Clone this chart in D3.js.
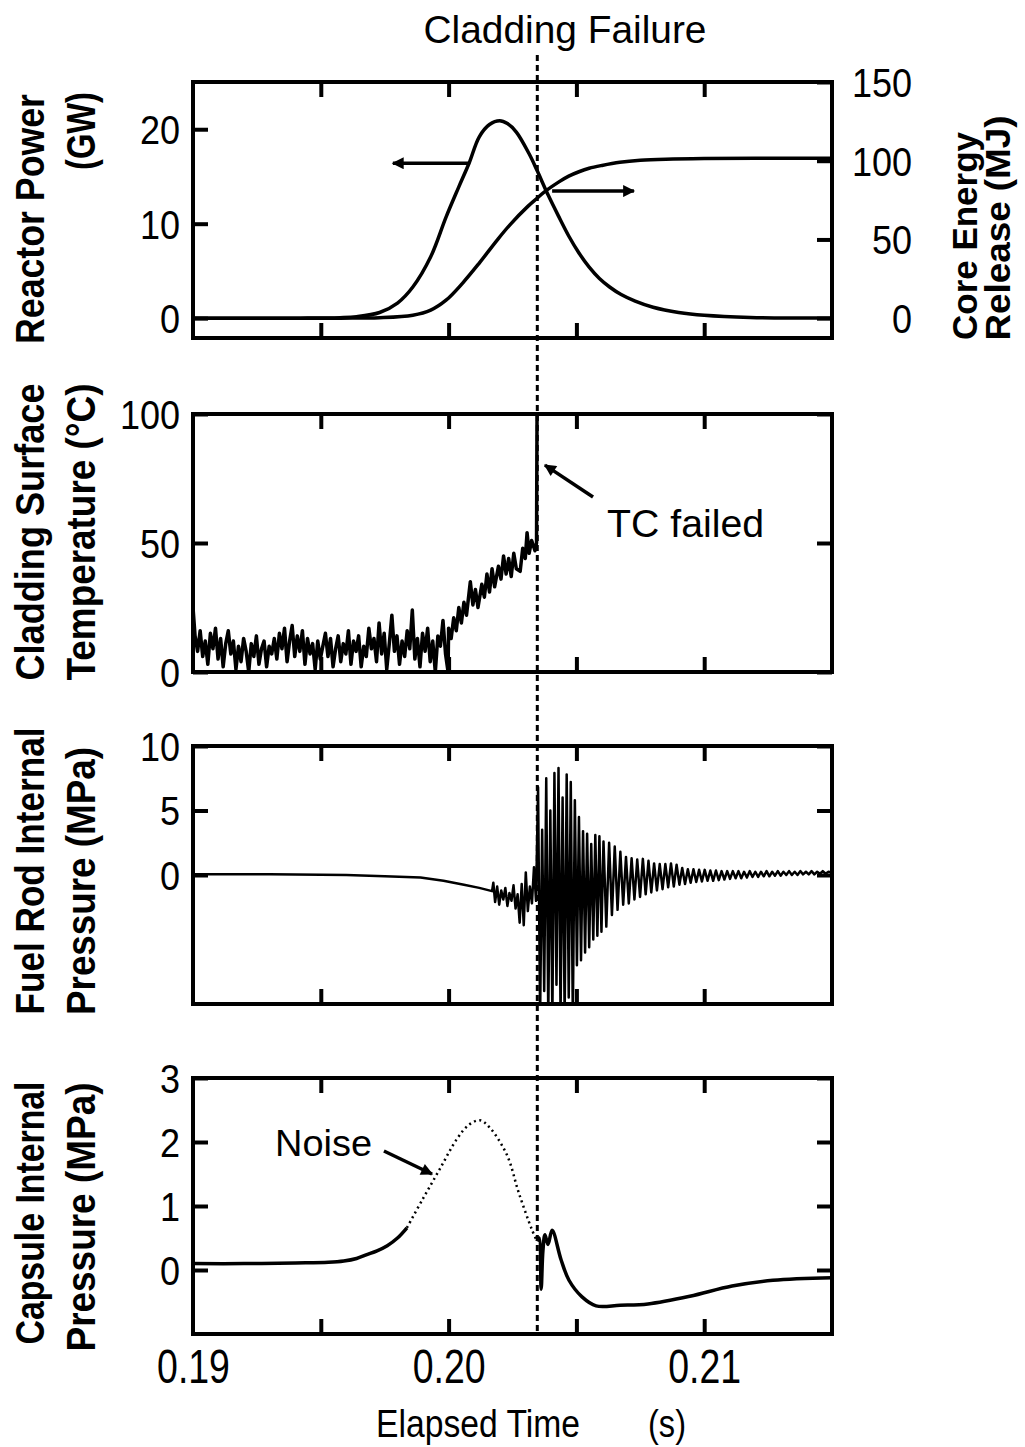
<!DOCTYPE html>
<html>
<head>
<meta charset="utf-8">
<script src="https://cdn.jsdelivr.net/npm/d3@7"></script>
<style>
  html, body { margin: 0; padding: 0; background: #fff; }
  svg { display: block; }
  text { font-family: "Liberation Sans", Arial, sans-serif; fill: #000; }
</style>
</head>
<body>
<script>
// time is kept in ms, labels are shown in seconds
const failureTime = 203.47;
const xTickTimes = [195, 200, 205, 210];
const xLabelTimes = [190, 200, 210];
const xTickLabels = ["0.19", "0.20", "0.21"];

const powerTicks = [0, 10, 20];
const energyTicks = [0, 50, 100, 150];
const tempTicks = [0, 50, 100];
const rodTicks = [0, 5, 10];
const capsuleTicks = [0, 1, 2, 3];

// reactor power (GW)
const reactorPower = [
  [190.0, 0], [194.2, 0], [195.75, 0.05], [196.4, 0.15], [197.3, 0.6], [198.0, 1.6], [198.6, 3.3],
  [199.3, 6.5], [199.9, 10.7], [200.4, 13.9], [200.8, 16.4], [201.2, 19.2], [201.6, 20.5],
  [202.0, 20.9], [202.3, 20.6], [202.65, 19.7], [203.15, 17.4], [203.45, 15.7], [203.9, 13.0],
  [204.3, 10.8], [204.7, 8.7], [205.1, 6.9], [205.5, 5.4], [205.9, 4.2], [206.3, 3.3],
  [206.75, 2.5], [207.3, 1.8], [208.0, 1.15], [209.0, 0.6], [210.0, 0.3], [211.8, 0.08], [215.0, 0.02]
];

// core energy release (MJ)
const coreEnergy = [
  [190.0, 0], [195.75, 0], [197.3, 0.3], [198.6, 1.9], [199.3, 5.1], [199.9, 11.4], [200.55, 22.3],
  [201.2, 35.0], [201.9, 49.6], [202.4, 59.3], [203.1, 71.0], [203.45, 76.0], [203.8, 80.8],
  [204.3, 86.4], [204.7, 90.2], [205.1, 93.0], [205.5, 95.2], [206.0, 97.0], [206.7, 99.0],
  [207.5, 100.3], [208.5, 101.0], [210.0, 101.4], [212.0, 101.5], [215.0, 101.5]
];

// cladding surface temperature (C)
const cladTemp = [
  [190.00, 25], [190.08, 14], [190.18, 8], [190.28, 16], [190.38, 6], [190.48, 12], [190.58, 3],
  [190.68, 15], [190.78, 9], [190.88, 17], [190.98, 5], [191.08, 13], [191.18, 2], [191.28, 11],
  [191.38, 16], [191.48, 7], [191.58, 12], [191.68, 1], [191.78, 10], [191.88, 4], [191.98, 13],
  [192.08, 8], [192.18, 0], [192.28, 11], [192.38, 6], [192.48, 14], [192.58, 3], [192.68, 9],
  [192.78, 12], [192.88, 2], [192.98, 10], [193.08, 7], [193.18, 13], [193.28, 5], [193.38, 15],
  [193.48, 9], [193.58, 17], [193.68, 4], [193.78, 12], [193.88, 18], [193.98, 6], [194.08, 14],
  [194.18, 8], [194.28, 16], [194.38, 3], [194.48, 13], [194.58, 7], [194.68, 11], [194.78, 1],
  [194.88, 12], [194.98, 5], [195.08, 10], [195.18, 15], [195.28, 6], [195.38, 13], [195.48, 2],
  [195.58, 9], [195.68, 14], [195.78, 4], [195.88, 11], [195.98, 7], [196.08, 16], [196.18, 3],
  [196.28, 12], [196.38, 8], [196.48, 14], [196.58, 2], [196.68, 10], [196.78, 6], [196.88, 17],
  [196.98, 9], [197.08, 13], [197.18, 4], [197.28, 19], [197.38, 7], [197.48, 15], [197.58, 1],
  [197.68, 11], [197.78, 22], [197.88, 8], [197.98, 14], [198.08, 3], [198.18, 12], [198.28, 6],
  [198.38, 16], [198.48, 9], [198.58, 24], [198.68, 5], [198.78, 13], [198.88, 2], [198.98, 15],
  [199.08, 8], [199.18, 17], [199.28, 4], [199.38, 12], [199.48, 0], [199.58, 14], [199.68, 10],
  [199.78, 20], [199.88, 7], [199.98, 0],
  [200.00, 17], [200.10, 13], [200.20, 21], [200.30, 16], [200.40, 25], [200.50, 19], [200.60, 27],
  [200.70, 22], [200.85, 35], [200.95, 26], [201.05, 32], [201.15, 25], [201.30, 34], [201.40, 29],
  [201.50, 38], [201.60, 31], [201.70, 40], [201.80, 33], [201.95, 41], [202.05, 36], [202.15, 45],
  [202.25, 38], [202.35, 44], [202.45, 37], [202.55, 46], [202.65, 40], [202.80, 39], [202.90, 48],
  [203.00, 44], [203.07, 54], [203.15, 46], [203.25, 51], [203.38, 47], [203.44, 50], [203.46, 100]
];

// fuel rod internal pressure (MPa)
const rodPressure = [
  [190.0, 0.05], [193.0, 0.05], [196.0, 0.0], [197.5, -0.1], [198.9, -0.2], [199.8, -0.45],
  [200.6, -0.75], [201.2, -1.0], [201.7, -1.25],
  [201.75, -0.6], [201.82, -2.1], [201.90, -0.9], [201.98, -2.3], [202.06, -1.2], [202.14, -1.9],
  [202.22, -1.0], [202.30, -2.4], [202.38, -1.4], [202.46, -2.0], [202.54, -0.8], [202.62, -2.6],
  [202.70, -1.5], [202.78, -3.7], [202.86, -0.7], [202.94, -3.9], [203.02, 0.2], [203.10, -2.8],
  [203.18, -0.9], [203.26, -2.2], [203.34, 0.6], [203.42, -2.0],
  [203.50, 6.8], [203.58, -11], [203.66, 3.5], [203.74, -9], [203.82, 7.5], [203.90, -11],
  [203.98, 5.0], [204.06, -11], [204.14, 7.9], [204.22, -8.5], [204.30, 8.3], [204.38, -11],
  [204.46, 6.0], [204.54, -11], [204.62, 7.8], [204.70, -9.5], [204.78, 7.2], [204.86, -11],
  [204.94, 5.8], [205.02, -7.0], [205.10, 4.5], [205.18, -6.6], [205.26, 3.4], [205.34, -6.0],
  [205.42, 3.2], [205.50, -5.6], [205.58, 2.4], [205.66, -5.0], [205.74, 3.1], [205.82, -4.7],
  [205.90, 3.0], [205.98, -4.4], [206.06, 2.6],
  [206.17, -4.0], [206.28, 2.5], [206.39, -3.1], [206.50, 2.2], [206.61, -2.7], [206.72, 1.8],
  [206.83, -2.3], [206.94, 1.4], [207.05, -2.2], [207.16, 1.3], [207.27, -1.9], [207.38, 1.2],
  [207.49, -1.7], [207.60, 1.25], [207.71, -1.5], [207.82, 1.1], [207.93, -1.35], [208.04, 0.9],
  [208.15, -1.2], [208.26, 0.85], [208.37, -1.1], [208.48, 0.85], [208.59, -0.95], [208.70, 0.9],
  [208.81, -0.9], [208.92, 0.8], [209.03, -0.75], [209.14, 0.55], [209.25, -0.7], [209.36, 0.45],
  [209.47, -0.6], [209.58, 0.45], [209.69, -0.55], [209.80, 0.4], [209.91, -0.5], [210.02, 0.4],
  [210.13, -0.45], [210.24, 0.35], [210.35, -0.45], [210.46, 0.35], [210.57, -0.4], [210.68, 0.3],
  [210.79, -0.35], [210.90, 0.3], [211.01, -0.3], [211.12, 0.3], [211.23, -0.25], [211.34, 0.3],
  [211.45, -0.25], [211.56, 0.25], [211.67, -0.2], [211.78, 0.3], [211.89, -0.15], [212.00, 0.25],
  [212.11, -0.15], [212.22, 0.25], [212.33, -0.1], [212.44, 0.3], [212.55, -0.1], [212.66, 0.25],
  [212.77, -0.05], [212.88, 0.3], [212.99, -0.05], [213.10, 0.25], [213.21, 0.0], [213.32, 0.3],
  [213.43, 0.0], [213.54, 0.25], [213.65, 0.0], [213.76, 0.3], [213.87, 0.05], [213.98, 0.25],
  [214.09, 0.05], [214.20, 0.3], [214.31, 0.05], [214.42, 0.25], [214.53, 0.1], [214.64, 0.3],
  [214.75, 0.1], [214.86, 0.25], [215.0, 0.2]
];

// capsule internal pressure (MPa)
const capsulePressure = [
  [190.0, 0.1], [192.0, 0.1], [194.0, 0.11], [195.3, 0.12], [195.9, 0.14], [196.4, 0.18],
  [196.8, 0.24], [197.2, 0.3], [197.6, 0.38], [198.0, 0.5], [198.37, 0.66], [198.99, 1.11],
  [199.66, 1.58], [200.33, 2.05], [200.80, 2.27], [201.23, 2.34], [201.62, 2.22], [202.28, 1.8],
  [202.75, 1.2], [203.26, 0.63], [203.46, 0.45], [203.54, 0.5], [203.62, -0.3], [203.69, 0.3],
  [203.77, 0.55], [203.89, 0.4], [204.05, 0.62], [204.40, 0.16], [204.71, -0.16], [205.22, -0.42],
  [205.77, -0.56], [206.71, -0.55], [207.80, -0.53], [209.44, -0.41], [211.09, -0.25],
  [212.69, -0.16], [215.0, -0.12]
];
const noiseSpan = [198.37, 203.46];

// ---- layout ----
const W = 1025, H = 1447;
const boxLeft = 193, boxRight = 832;
const tickLen = 15;

const svg = d3.select("body").append("svg")
    .attr("width", W)
    .attr("height", H)
    .attr("viewBox", `0 0 ${W} ${H}`);

svg.append("rect").attr("width", W).attr("height", H).attr("fill", "#fff");

const defs = svg.append("defs");
defs.append("marker")
    .attr("id", "head")
    .attr("viewBox", "0 0 10 10")
    .attr("refX", 9).attr("refY", 5)
    .attr("markerWidth", 16).attr("markerHeight", 12)
    .attr("markerUnits", "userSpaceOnUse")
    .attr("orient", "auto")
    .append("path").attr("d", "M0,0 L10,5 L0,10 z").attr("fill", "#000");

let x = d3.scaleLinear().domain([190, 215]).range([boxLeft, boxRight]);

function condense(sel, f) {
    sel.each(function () {
        let w = this.getComputedTextLength();
        d3.select(this).attr("textLength", w * f).attr("lengthAdjust", "spacingAndGlyphs");
    });
}

function styleAxis(g) {
    g.select(".domain").remove();
    g.selectAll(".tick line").attr("stroke", "#000").attr("stroke-width", 4);
    g.attr("font-family", null).attr("font-size", null);
}

function makePanel(id, top, bottom) {
    let g = svg.append("g").attr("class", "panel " + id);
    defs.append("clipPath").attr("id", "clip-" + id)
        .append("rect")
        .attr("x", boxLeft).attr("y", top)
        .attr("width", boxRight - boxLeft).attr("height", bottom - top);

    g.append("g").attr("transform", `translate(0,${top})`)
        .call(d3.axisTop(x).tickValues(xTickTimes).tickSize(-tickLen).tickFormat(""))
        .call(styleAxis);
    g.append("g").attr("transform", `translate(0,${bottom})`)
        .call(d3.axisBottom(x).tickValues(xTickTimes).tickSize(-tickLen).tickFormat(""))
        .call(styleAxis);

    let plot = g.append("g").attr("clip-path", `url(#clip-${id})`);
    return {g: g, plot: plot, top: top, bottom: bottom};
}

function leftAxis(p, y, ticks, labelled) {
    let ax = p.g.append("g").attr("transform", `translate(${boxLeft},0)`)
        .call(d3.axisLeft(y).tickValues(ticks).tickSize(-tickLen).tickPadding(13)
            .tickFormat(labelled ? d3.format("d") : ""))
        .call(styleAxis);
    ax.selectAll("text").attr("font-size", 40).attr("dy", "0.36em").call(condense, 0.9);
}

function rightAxis(p, y, ticks, labelled) {
    let ax = p.g.append("g").attr("transform", `translate(${boxRight},0)`)
        .call(d3.axisRight(y).tickValues(ticks).tickSize(-tickLen)
            .tickFormat(labelled ? d3.format("d") : ""))
        .call(styleAxis);
    ax.selectAll("text").attr("font-size", 40).attr("dy", "0.36em")
        .attr("x", 80).attr("text-anchor", "end").call(condense, 0.9);
}

function frame(p) {
    p.g.append("rect")
        .attr("x", boxLeft).attr("y", p.top)
        .attr("width", boxRight - boxLeft).attr("height", p.bottom - p.top)
        .attr("fill", "none").attr("stroke", "#000").attr("stroke-width", 4);
}

function vLabel(str, bx, cy, len, size, weight) {
    svg.append("text")
        .attr("transform", `translate(${bx},${cy}) rotate(-90)`)
        .attr("text-anchor", "middle")
        .attr("font-size", size)
        .attr("font-weight", weight || "bold")
        .attr("textLength", len)
        .attr("lengthAdjust", "spacingAndGlyphs")
        .text(str);
}

function arrow(g, x1, y1, x2, y2) {
    g.append("line")
        .attr("x1", x1).attr("y1", y1).attr("x2", x2).attr("y2", y2)
        .attr("stroke", "#000").attr("stroke-width", 3.5)
        .attr("marker-end", "url(#head)");
}

let smooth = d3.curveCatmullRom.alpha(0.5);

// ---- panel 1: reactor power / core energy ----
let p1 = makePanel("p1", 82, 338);
let yPower = d3.scaleLinear().domain([-2.1, 25]).range([338, 82]);
let yEnergy = d3.scaleLinear().domain([-12.6, 150]).range([338, 82]);

p1.plot.append("path").datum(reactorPower)
    .attr("fill", "none").attr("stroke", "#000").attr("stroke-width", 3.5)
    .attr("d", d3.line().x(d => x(d[0])).y(d => yPower(d[1])).curve(smooth));
p1.plot.append("path").datum(coreEnergy)
    .attr("fill", "none").attr("stroke", "#000").attr("stroke-width", 3.5)
    .attr("d", d3.line().x(d => x(d[0])).y(d => yEnergy(d[1])).curve(smooth));

leftAxis(p1, yPower, powerTicks, true);
rightAxis(p1, yEnergy, energyTicks, true);
frame(p1);

arrow(p1.g, x(200.76), yPower(16.4), x(197.82), yPower(16.4));
arrow(p1.g, x(204.05), yEnergy(80.7), x(207.25), yEnergy(80.7));

vLabel("Reactor Power", 44, 219, 250, 40);
vLabel("(GW)", 95, 131, 78, 40);
vLabel("Core Energy", 977, 236, 208, 35);
vLabel("Release (MJ)", 1010, 228, 225, 35);

// ---- panel 2: cladding surface temperature ----
let p2 = makePanel("p2", 414, 672);
let yTemp = d3.scaleLinear().domain([0, 100]).range([672, 414]);

p2.plot.append("path").datum(cladTemp)
    .attr("fill", "none").attr("stroke", "#000").attr("stroke-width", 3.5)
    .attr("stroke-linejoin", "round")
    .attr("d", d3.line().x(d => x(d[0])).y(d => yTemp(d[1])));

leftAxis(p2, yTemp, tempTicks, true);
rightAxis(p2, yTemp, tempTicks, false);
frame(p2);

arrow(p2.g, x(205.65), yTemp(67.8), x(203.77), yTemp(80.2));
p2.g.append("text")
    .attr("x", x(206.2)).attr("y", yTemp(52.3))
    .attr("font-size", 38)
    .attr("textLength", 157).attr("lengthAdjust", "spacingAndGlyphs")
    .text("TC failed");

vLabel("Cladding Surface", 44, 532, 297, 40);
vLabel("Temperature (°C)", 95, 532, 297, 40);

// ---- panel 3: fuel rod internal pressure ----
let p3 = makePanel("p3", 746, 1004);
let yRod = d3.scaleLinear().domain([-10, 10]).range([1004, 746]);

p3.plot.append("path").datum(rodPressure)
    .attr("fill", "none").attr("stroke", "#000").attr("stroke-width", 2.5)
    .attr("stroke-linejoin", "round")
    .attr("d", d3.line().x(d => x(d[0])).y(d => yRod(d[1])));

leftAxis(p3, yRod, rodTicks, true);
rightAxis(p3, yRod, rodTicks, false);
frame(p3);

vLabel("Fuel Rod Internal", 44, 871, 287, 40);
vLabel("Pressure (MPa)", 95, 881, 268, 40);

// ---- panel 4: capsule internal pressure ----
let p4 = makePanel("p4", 1078, 1334);
let yCap = d3.scaleLinear().domain([-1, 3]).range([1334, 1078]);
let capLine = d3.line().x(d => x(d[0])).y(d => yCap(d[1]));

let capBefore = capsulePressure.filter(d => d[0] <= noiseSpan[0]);
let capNoise = capsulePressure.filter(d => d[0] >= noiseSpan[0] && d[0] <= noiseSpan[1]);
let capAfter = capsulePressure.filter(d => d[0] >= noiseSpan[1]);

p4.plot.append("path").datum(capBefore)
    .attr("fill", "none").attr("stroke", "#000").attr("stroke-width", 3.5)
    .attr("d", capLine.curve(smooth));
p4.plot.append("path").datum(capNoise)
    .attr("fill", "none").attr("stroke", "#000").attr("stroke-width", 2.5)
    .attr("stroke-dasharray", "2,3.5")
    .attr("d", capLine.curve(smooth));
p4.plot.append("path").datum(capAfter)
    .attr("fill", "none").attr("stroke", "#000").attr("stroke-width", 3.5)
    .attr("stroke-linejoin", "round")
    .attr("d", capLine.curve(smooth));

leftAxis(p4, yCap, capsuleTicks, true);
rightAxis(p4, yCap, capsuleTicks, false);
frame(p4);

arrow(p4.g, x(197.47), yCap(1.86), x(199.35), yCap(1.5));
p4.g.append("text")
    .attr("x", x(193.21)).attr("y", yCap(1.78))
    .attr("font-size", 37)
    .attr("textLength", 97).attr("lengthAdjust", "spacingAndGlyphs")
    .text("Noise");

vLabel("Capsule Internal", 44, 1213, 263, 40);
vLabel("Pressure (MPa)", 95, 1217, 269, 40);

// x tick labels under the last panel
let xl = svg.append("g").attr("transform", `translate(0,1334)`)
    .call(d3.axisBottom(x).tickValues(xLabelTimes).tickSize(0).tickPadding(14)
        .tickFormat((d, i) => xTickLabels[i]))
    .call(styleAxis);
xl.selectAll("text").attr("font-size", 48).attr("dy", "0.72em").call(condense, 0.78);

svg.append("text")
    .attr("x", 376).attr("y", 1437)
    .attr("font-size", 38)
    .attr("textLength", 204).attr("lengthAdjust", "spacingAndGlyphs")
    .text("Elapsed Time");
svg.append("text")
    .attr("x", 648).attr("y", 1437)
    .attr("font-size", 38)
    .attr("textLength", 38).attr("lengthAdjust", "spacingAndGlyphs")
    .text("(s)");

// cladding failure marker
svg.append("line")
    .attr("x1", x(failureTime)).attr("x2", x(failureTime))
    .attr("y1", 55).attr("y2", 1334)
    .attr("stroke", "#000").attr("stroke-width", 3)
    .attr("stroke-dasharray", "6,4");

svg.append("text")
    .attr("x", 565).attr("y", 43)
    .attr("text-anchor", "middle")
    .attr("font-size", 38)
    .attr("textLength", 283).attr("lengthAdjust", "spacingAndGlyphs")
    .text("Cladding Failure");
</script>
</body>
</html>
